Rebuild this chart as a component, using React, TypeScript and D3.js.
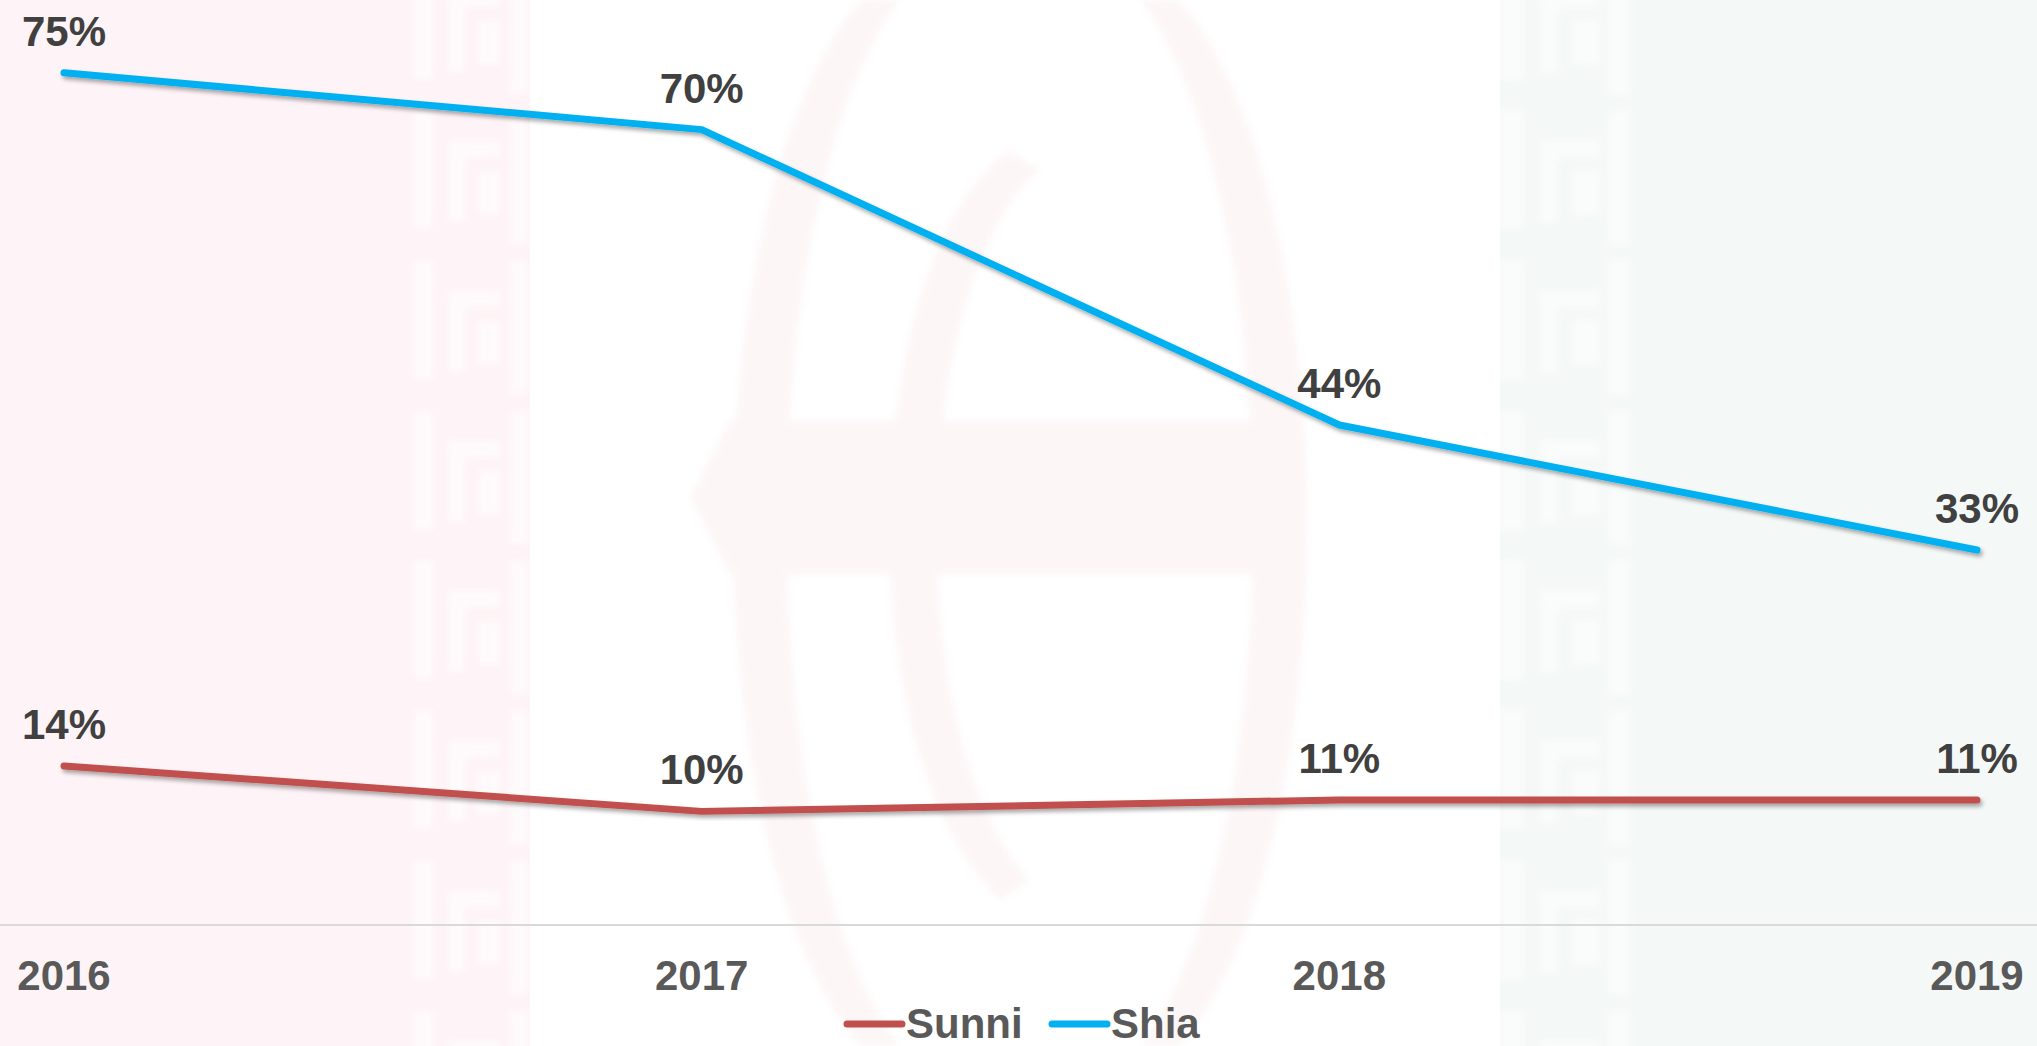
import React from "react";
import * as d3 from "d3";

const years = ["2016", "2017", "2018", "2019"];
const sunni = [0.14, 0.1, 0.11, 0.11];
const shia = [0.75, 0.7, 0.44, 0.33];
const seriesNames = ["Sunni", "Shia"];
const seriesColors = ["#C0504D", "#00B0F0"];

const W = 2037;
const H = 1046;

export default function App() {
  const x = d3.scalePoint<string>().domain(years).range([64, 1977]);
  const y = d3.scaleLinear().domain([0, 0.8]).range([925, 16]);
  const line = d3
    .line<number>()
    .x((_, i) => x(years[i]) as number)
    .y((d) => y(d));
  const series = [sunni, shia];
  const fmt = d3.format(".0%");

  const kufic = (x0: number, w: number, color: string) => {
    const rects: JSX.Element[] = [];
    const step = 150;
    for (let yy = -40, k = 0; yy < H; yy += step, k++) {
      rects.push(
        <g key={k} fill={color}>
          <rect x={x0} y={yy} width={w * 0.18} height={step * 0.8} />
          <rect x={x0 + w * 0.3} y={yy + 30} width={w * 0.45} height={18} />
          <rect x={x0 + w * 0.3} y={yy + 30} width={18} height={step * 0.55} />
          <rect x={x0 + w * 0.55} y={yy + 60} width={w * 0.2} height={step * 0.3} />
          <rect x={x0 + w * 0.82} y={yy} width={w * 0.16} height={step * 0.9} />
        </g>
      );
    }
    return rects;
  };

  return (
    <div style={{ position: "absolute", left: 0, top: 0 }}>
      <svg width={W} height={H} style={{ display: "block" }}>
        <defs>
          <filter id="sh" x="-5%" y="-20%" width="110%" height="140%">
            <feDropShadow dx="2" dy="3" stdDeviation="2" floodColor="#000" floodOpacity="0.35" />
          </filter>
          <filter id="blur">
            <feGaussianBlur stdDeviation="3" />
          </filter>
        </defs>
        <rect x={0} y={0} width={W} height={H} fill="#ffffff" />
        <rect x={0} y={0} width={530} height={H} fill="#FEF3F6" />
        <rect x={1500} y={0} width={W - 1500} height={H} fill="#F4F8F7" />
        <g opacity={0.55} filter="url(#blur)">{kufic(413, 117, "#ffffff")}</g>
        <g opacity={0.55} filter="url(#blur)">{kufic(1500, 133, "#ffffff")}</g>
        <g fill="#F8E1E4" opacity={0.28} filter="url(#blur)">
          <path d="M 860 0 C 690 200, 690 850, 860 1046 L 900 1046 C 750 850, 750 200, 900 0 Z" />
          <path d="M 1180 0 C 1350 200, 1350 850, 1180 1046 L 1140 1046 C 1290 850, 1290 200, 1140 0 Z" />
          <path d="M 690 497 L 730 420 L 1290 420 L 1300 497 L 1290 575 L 730 575 Z" />
          <path d="M 1010 150 C 860 250, 840 750, 1000 900 L 1030 880 C 900 740, 910 280, 1040 170 Z" />
        </g>
        <line x1={0} x2={W} y1={y(0)} y2={y(0)} stroke="#D9D9D9" strokeWidth={2} />
        {series.map((s, si) => (
          <path
            key={si}
            d={line(s) as string}
            fill="none"
            stroke={seriesColors[si]}
            strokeWidth={7}
            strokeLinecap="round"
            strokeLinejoin="round"
            filter="url(#sh)"
          />
        ))}
        {series.map((s, si) =>
          s.map((v, i) => (
            <text
              key={`${si}-${i}`}
              x={x(years[i])}
              y={y(v) - 27}
              textAnchor="middle"
              fontFamily="'Liberation Sans', Arial, sans-serif"
              fontWeight="bold"
              fontSize={42}
              fill="#404040"
            >
              {fmt(v)}
            </text>
          ))
        )}
        {years.map((yr) => (
          <text
            key={yr}
            x={x(yr)}
            y={990}
            textAnchor="middle"
            fontFamily="'Liberation Sans', Arial, sans-serif"
            fontWeight="bold"
            fontSize={42}
            fill="#595959"
          >
            {yr}
          </text>
        ))}
        {seriesNames.map((n, i) => {
          const lx = i === 0 ? 847 : 1052;
          return (
            <g key={n}>
              <line
                x1={lx}
                x2={lx + 55}
                y1={1024}
                y2={1024}
                stroke={seriesColors[i]}
                strokeWidth={7}
                strokeLinecap="round"
              />
              <text
                x={lx + 59}
                y={1038}
                fontFamily="'Liberation Sans', Arial, sans-serif"
                fontWeight="bold"
                fontSize={42}
                fill="#595959"
              >
                {n}
              </text>
            </g>
          );
        })}
      </svg>
    </div>
  );
}
